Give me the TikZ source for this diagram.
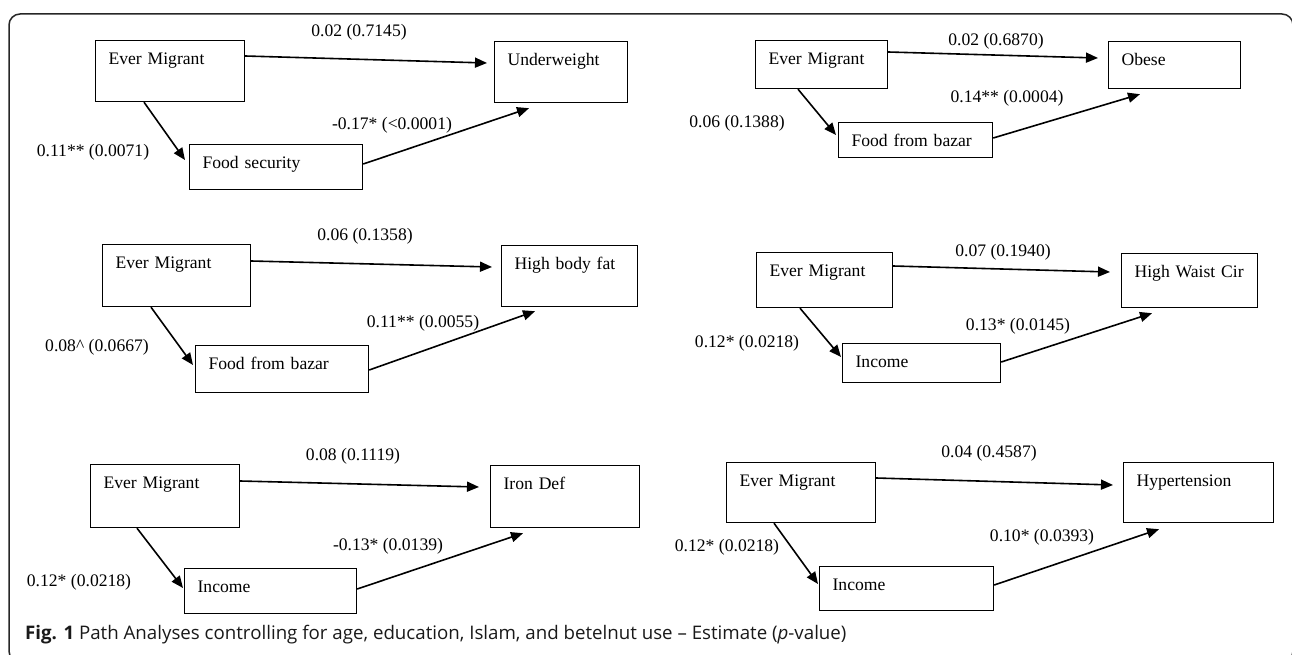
\documentclass[tikz,border=0pt]{standalone}
\usepackage{fontspec}
\setmainfont{Liberation Serif}
\newfontfamily\capfont{Open Sans}
\usepackage{tikz}
\usetikzlibrary{arrows.meta,calc}

\begin{document}
\begin{tikzpicture}[
    x=1pt, y=-1pt,
    varbox/.style={draw, line width=1.2pt, anchor=north west, inner xsep=13pt, inner ysep=0pt, text height=24pt, align=left, font=\fontsize{17.6}{20}\selectfont},
    coef/.style={inner sep=0pt, font=\fontsize{17.6}{20}\selectfont},
    effect/.style={-{Triangle[length=12pt,width=10pt]}, line width=1.6pt}
]
\useasboundingbox (0,0) rectangle (1292,655);
\clip (0,0) rectangle (1292,655);

% outer frame
\draw[line width=1.5pt, rounded corners=11pt, black!85] (9,14) rectangle (1293,662);

% underweight
\node[varbox, text width=123pt, text depth=37pt] (em1) at (95,40) {Ever Migrant};
\node[varbox, text width=107pt, text depth=37pt] (uw1) at (494,41) {Underweight};
\node[varbox, text width=147pt, text depth=21pt] (fs1) at (189,144) {Food security};
\draw[effect] ($(em1.north east)+(0,16)$) -- ($(uw1.north west)+(-7,22)$);
\draw[effect] ($(em1.south west)+(49,0)$) -- ($(fs1.north west)+(-4,16)$);
\draw[effect] ($(fs1.north east)+(0,20)$) -- ($(uw1.south west)+(35,5)$);
\node[coef] (c1a) at (359,32) {0.02 (0.7145)};
\node[coef] (c1b) at (93,152) {0.11** (0.0071)};
\node[coef] (c1c) at (392,125) {-0.17* (<0.0001)};

% obese
\node[varbox, text width=106pt, text depth=24pt] (em2) at (755,40) {Ever Migrant};
\node[varbox, text width=106pt, text depth=23pt] (ob2) at (1108,41) {Obese};
\node[varbox, text width=128pt, text depth=11pt] (fb2) at (838,122) {Food from bazar};
\draw[effect] ($(em2.north east)+(0,12)$) -- ($(ob2.north west)+(-10,17)$);
\draw[effect] ($(em2.south west)+(43,0)$) -- ($(fb2.north west)+(-2,13)$);
\draw[effect] ($(fb2.north east)+(0,16)$) -- ($(ob2.south west)+(32,5)$);
\node[coef] (c2a) at (996,41) {0.02 (0.6870)};
\node[coef] (c2b) at (737,123) {0.06 (0.1388)};
\node[coef] (c2c) at (1007,98) {0.14** (0.0004)};

% high body fat
\node[varbox, text width=122pt, text depth=38pt] (em3) at (102,244) {Ever Migrant};
\node[varbox, text width=110pt, text depth=37pt] (hb3) at (501,245) {High body fat};
\node[varbox, text width=147pt, text depth=23pt] (fb3) at (195,345) {Food from bazar};
\draw[effect] ($(em3.north east)+(0,17)$) -- ($(hb3.north west)+(-9,22)$);
\draw[effect] ($(em3.south west)+(49,0)$) -- ($(fb3.north west)+(-2,20)$);
\draw[effect] ($(fb3.north east)+(0,25)$) -- ($(hb3.south west)+(34,4)$);
\node[coef] (c3a) at (365,236) {0.06 (0.1358)};
\node[coef] (c3b) at (97,347) {0.08\^{} (0.0667)};
\node[coef] (c3c) at (423,323) {0.11** (0.0055)};

% high waist circumference
\node[varbox, text width=110pt, text depth=31pt] (em4) at (756,252) {Ever Migrant};
\node[varbox, text width=110pt, text depth=30pt] (hw4) at (1121,253) {High Waist Cir};
\node[varbox, text width=132pt, text depth=15pt] (in4) at (842,343) {Income};
\draw[effect] ($(em4.north east)+(0,14)$) -- ($(hw4.north west)+(-11,19)$);
\draw[effect] ($(em4.south west)+(44,0)$) -- ($(in4.north west)+(-1,14)$);
\draw[effect] ($(in4.north east)+(0,19)$) -- ($(hw4.south west)+(31,5)$);
\node[coef] (c4a) at (1003,252) {0.07 (0.1940)};
\node[coef] (c4b) at (747,343) {0.12* (0.0218)};
\node[coef] (c4c) at (1018,326) {0.13* (0.0145)};

% iron deficiency
\node[varbox, text width=123pt, text depth=39pt] (em5) at (90,464) {Ever Migrant};
\node[varbox, text width=123pt, text depth=38pt] (id5) at (490,465) {Iron Def};
\node[varbox, text width=146pt, text depth=21pt] (in5) at (184,568) {Income};
\draw[effect] ($(em5.north east)+(0,17)$) -- ($(id5.north west)+(-11,22)$);
\draw[effect] ($(em5.south west)+(47,0)$) -- ($(in5.north west)+(-1,20)$);
\draw[effect] ($(in5.north east)+(0,21)$) -- ($(id5.south west)+(33,5)$);
\node[coef] (c5a) at (353,456) {0.08 (0.1119)};
\node[coef] (c5b) at (79,582) {0.12* (0.0218)};
\node[coef] (c5c) at (388,546) {-0.13* (0.0139)};

% hypertension
\node[varbox, text width=123pt, text depth=36pt] (em6) at (726,462) {Ever Migrant};
\node[varbox, text width=124pt, text depth=36pt] (ht6) at (1123,462) {Hypertension};
\node[varbox, text width=148pt, text depth=20pt] (in6) at (819,566) {Income};
\draw[effect] ($(em6.north east)+(0,16)$) -- ($(ht6.north west)+(-10,23)$);
\draw[effect] ($(em6.south west)+(48,0)$) -- ($(in6.north west)+(-1,18)$);
\draw[effect] ($(in6.north east)+(0,19)$) -- ($(ht6.south west)+(36,6)$);
\node[coef] (c6a) at (989,453) {0.04 (0.4587)};
\node[coef] (c6b) at (727,547) {0.12* (0.0218)};
\node[coef] (c6c) at (1042,537) {0.10* (0.0393)};

% caption
\node[anchor=base west, inner sep=0pt, text=black!90, font=\capfont\fontsize{18.7}{22}\selectfont] (caption) at (25,639)
    {\textbf{Fig. 1} Path Analyses controlling for age, education, Islam, and betelnut use – Estimate (\textit{p}-value)};

\end{tikzpicture}
\end{document}
